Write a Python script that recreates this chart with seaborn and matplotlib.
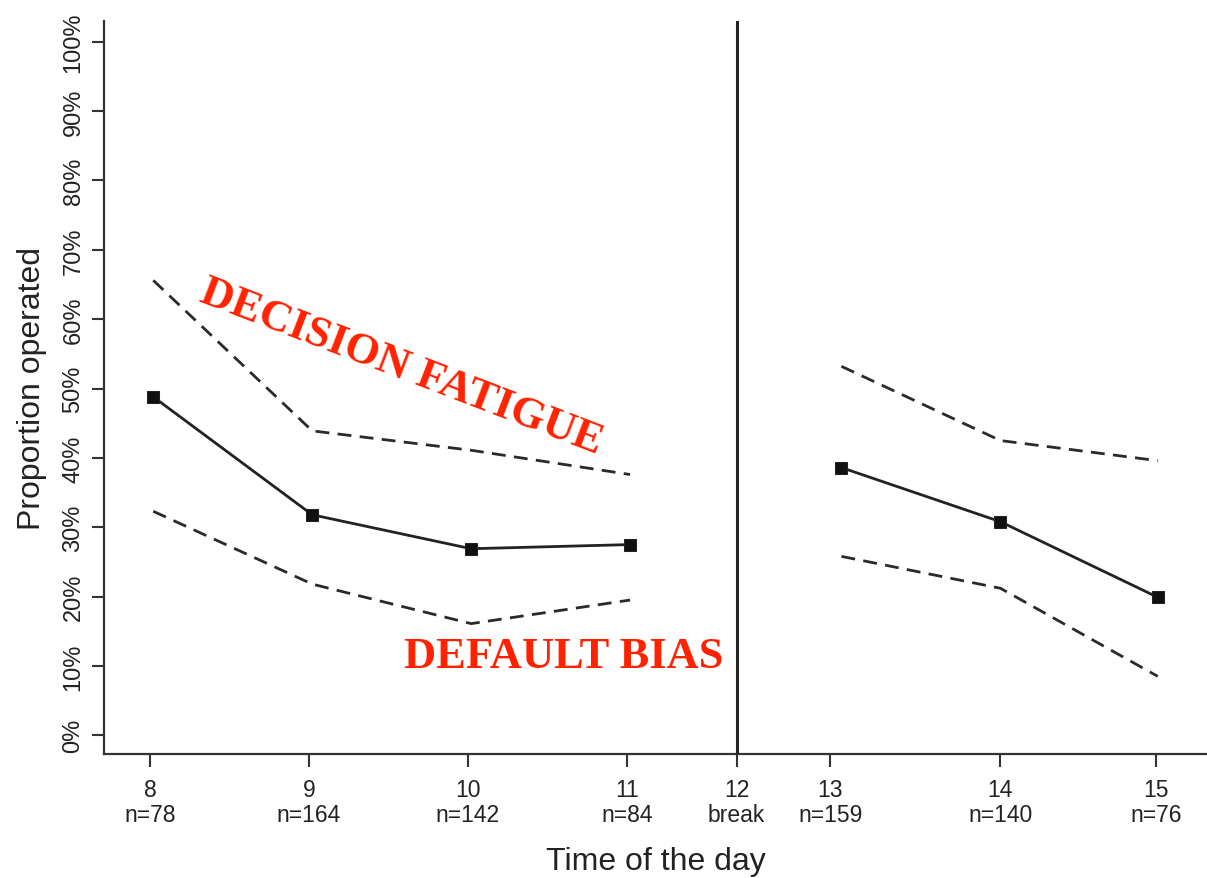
import matplotlib
matplotlib.use("Agg")
import matplotlib.pyplot as plt
import pandas as pd
import seaborn as sns

# tick labels along the time axis
hours = ['8', '9', '10', '11', '12', '13', '14', '15']
n_labels = ['n=78', 'n=164', 'n=142', 'n=84', 'break', 'n=159', 'n=140', 'n=76']
tick_x = [8, 9, 10, 11, 11.69, 12.28, 13.35, 14.33]

# morning session (before break)
am_x = [8.02, 9.02, 10.02, 11.02]
am_mean = [48.8, 31.8, 26.9, 27.5]
am_upper = [65.6, 43.9, 41.1, 37.6]
am_lower = [32.3, 21.8, 16.1, 19.5]

# afternoon session (after break)
pm_x = [12.35, 13.35, 14.34]
pm_mean = [38.6, 30.8, 19.9]
pm_upper = [53.2, 42.5, 39.6]
pm_lower = [25.8, 21.2, 8.5]

break_x = tick_x[4]

sns.set_style("ticks")
plt.rcParams['font.family'] = ['Liberation Sans', 'DejaVu Sans']

fig = plt.figure(figsize=(12.07, 8.79), dpi=100)
ax = fig.add_axes([104 / 1207, 124 / 879, (1207 - 104) / 1207, 733 / 879])

ink = '#222222'
for xs, mean, up, lo in [(am_x, am_mean, am_upper, am_lower),
                         (pm_x, pm_mean, pm_upper, pm_lower)]:
    df = pd.DataFrame({'x': xs, 'mean': mean, 'upper': up, 'lower': lo})
    sns.lineplot(data=df, x='x', y='mean', ax=ax, color=ink, lw=2.0,
                 marker='s', markersize=9, markeredgecolor=ink,
                 markerfacecolor='#111111')
    for col in ['upper', 'lower']:
        sns.lineplot(data=df, x='x', y=col, ax=ax, color='#2a2a2a', lw=2.0,
                     linestyle=(0, (5, 3)))

ax.axvline(break_x, color=ink, lw=2.2, zorder=3)

ax.set_xlim(7.71, 14.65)
ax.set_ylim(-2.7, 103)

ax.set_xticks(tick_x)
ax.set_xticklabels([f'{h}\n{n}' for h, n in zip(hours, n_labels)],
                   fontsize=16.5, color=ink, linespacing=1.15)
yt = list(range(0, 101, 10))
ax.set_yticks(yt)
ax.set_yticklabels([f'{v}%' for v in yt], rotation=90, va='center',
                   fontsize=17, color=ink)
ax.tick_params(axis='both', length=9, width=1.5, color='#333333')
ax.tick_params(axis='y', pad=5)
ax.tick_params(axis='x', pad=8)

for side in ['top', 'right']:
    ax.spines[side].set_visible(False)
for side in ['left', 'bottom']:
    ax.spines[side].set_linewidth(1.6)
    ax.spines[side].set_color('#333333')

ax.set_xlabel('Time of the day', fontsize=23, color=ink, labelpad=14)
ax.set_ylabel('Proportion operated', fontsize=23, color=ink, labelpad=11)

red = '#FF2200'
ax.text(9.585, 53.2, 'DECISION FATIGUE', color=red, fontsize=32,
        fontweight='bold', family=['Liberation Serif', 'DejaVu Serif'],
        rotation=-21, ha='center', va='center')
ax.text(10.6, 11.4, 'DEFAULT BIAS', color=red, fontsize=32,
        fontweight='bold', family=['Liberation Serif', 'DejaVu Serif'],
        ha='center', va='center')

fig.savefig('out.png', dpi=100)
